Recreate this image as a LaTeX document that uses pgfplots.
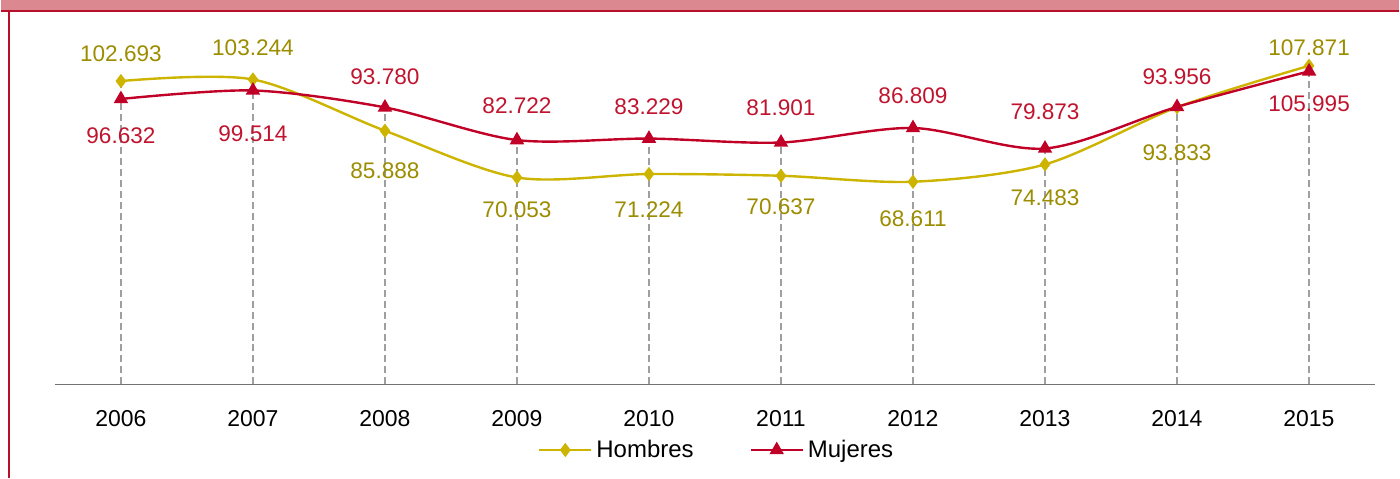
\documentclass[border=0pt]{standalone}
\usepackage{fontspec}
\setmainfont{Liberation Sans}
\usepackage{pgfplots}
\usepackage{pgfplotstable}
\pgfplotsset{compat=1.18}

\definecolor{hline}{HTML}{CCB400}
\definecolor{hlab}{HTML}{9C8C00}
\definecolor{mline}{HTML}{C00026}
\definecolor{mlab}{HTML}{C0142E}
\definecolor{banner}{HTML}{DC8890}
\definecolor{frame}{HTML}{B8102A}

% year, value, label, label shift (pt)
\pgfplotstableread{
year val lab dy
2006 102.693 102.693 13.5
2007 103.244 103.244 16
2008 85.888 85.888 -20
2009 70.053 70.053 -16
2010 71.224 71.224 -18
2011 70.637 70.637 -15.5
2012 68.611 68.611 -18.5
2013 74.483 74.483 -16.5
2014 93.833 93.833 -23
2015 107.871 107.871 9
}\hombres

\pgfplotstableread{
year val lab dy
2006 96.632 96.632 -18.5
2007 99.514 99.514 -21.5
2008 93.780 93.780 15.5
2009 82.722 82.722 17
2010 83.229 83.229 16
2011 81.901 81.901 17.5
2012 86.809 86.809 16
2013 79.873 79.873 18.5
2014 93.956 93.956 15
2015 105.995 105.995 -16
}\mujeres

\begin{document}
\begin{tikzpicture}
% canvas 1400x479 px at 0.5pt/px
\path (0pt,0pt) rectangle (700pt,239.5pt);
\fill[banner] (0pt,234.5pt) rectangle (700pt,239.5pt);
\draw[frame,line width=1pt] (0pt,234pt) -- (700pt,234pt);
\draw[frame,line width=0.6pt] (4pt,0pt) -- (4pt,234pt);

\begin{axis}[
  at={(27pt,47pt)}, anchor=south west,
  scale only axis, width=661pt, height=177.5pt,
  xmin=2005.5, xmax=2015.5, ymin=0, ymax=120,
  axis x line*=bottom, axis y line=none,
  x axis line style={draw=gray!90!black, line width=0.6pt},
  xtick={2006,...,2015}, major tick length=0pt,
  /pgf/number format/1000 sep={},
  /pgf/number format/assume math mode=true,
  xticklabel style={font=\fontsize{11.5}{13}\selectfont, yshift=-9.5pt},
  clip=false,
  legend style={at={(0.502,-0.185)}, anchor=center, legend columns=2, draw=none,
    font=\fontsize{12}{14}\selectfont,
    /tikz/every even column/.append style={column sep=26pt}},
  legend image code/.code={\draw[mark repeat=2,mark phase=2,#1]
    plot coordinates {(0pt,0pt) (13pt,0pt) (26pt,0pt)};},
]
% drop lines
\addplot[ycomb, no marks, draw=gray!75, line width=1pt, dash pattern=on 3.5pt off 2pt, forget plot]
  coordinates {(2006,102.693) (2007,103.244) (2008,93.780) (2009,82.722) (2010,83.229)
  (2011,81.901) (2012,86.809) (2013,79.873) (2014,93.956) (2015,107.871)};

\addplot[hline, line width=1.2pt, smooth, mark=diamond*, mark size=2.6pt,
  mark options={solid, fill=hline, draw=hline},
  point meta=explicit symbolic, nodes near coords,
  visualization depends on={\thisrow{dy} \as \dy},
  every node near coord/.append style={anchor=center, yshift=\dy pt, text=hlab,
    font=\fontsize{11.3}{13}\selectfont}]
  table[x=year, y=val, meta=lab] {\hombres};
\addlegendentry{Hombres}

\addplot[mline, line width=1.2pt, smooth, mark=triangle*, mark size=3pt,
  mark options={solid, fill=mline, draw=mline},
  point meta=explicit symbolic, nodes near coords,
  visualization depends on={\thisrow{dy} \as \dy},
  every node near coord/.append style={anchor=center, yshift=\dy pt, text=mlab,
    font=\fontsize{11.3}{13}\selectfont}]
  table[x=year, y=val, meta=lab] {\mujeres};
\addlegendentry{Mujeres}
\end{axis}
\end{tikzpicture}
\end{document}
